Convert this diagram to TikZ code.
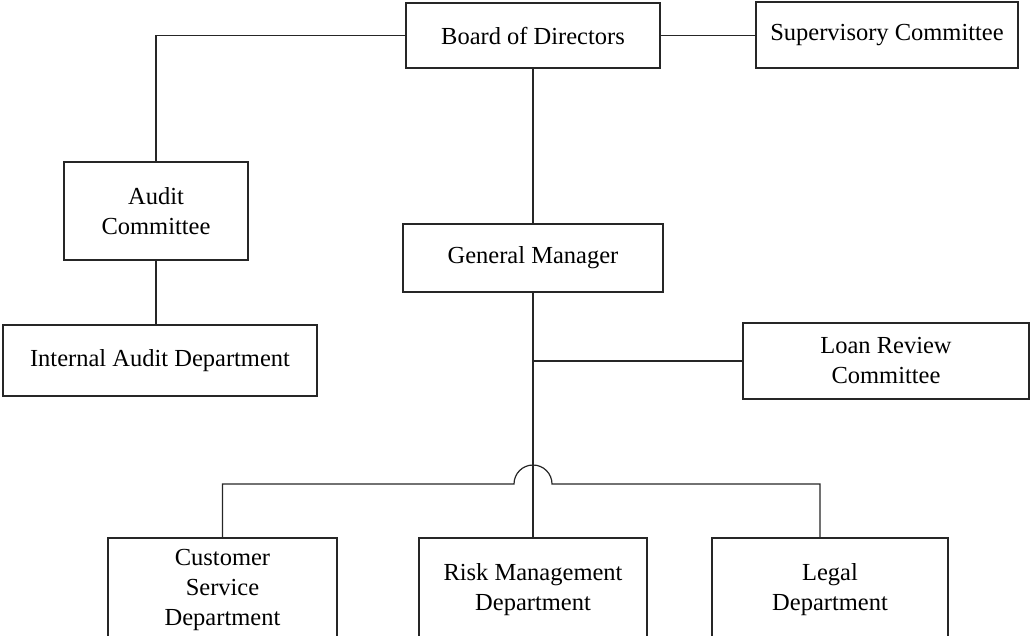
\documentclass[tikz,border=0pt]{standalone}
\usepackage{fontspec}
\setmainfont{Liberation Serif}
\tikzset{
  orgbox/.style={draw=black!85, line width=1.2pt, align=center, inner sep=0pt,
    font=\fontsize{24.5}{30}\selectfont},
  orgline/.style={draw=black!85, line width=1.2pt, line join=miter, line cap=butt}
}
\begin{document}
\begin{tikzpicture}[x=1pt, y=-1pt]
\path[use as bounding box, clip] (0,0) rectangle (1030,635);
\node[orgbox, minimum width=254pt, minimum height=65pt] (board) at (533,35.5) {Board of Directors};
\node[orgbox, minimum width=262pt, minimum height=66pt] (super) at (887,35) {Supervisory Committee};
\node[orgbox, minimum width=184pt, minimum height=98pt] (audit) at (156,211) {Audit\\Committee};
\node[orgbox, minimum width=314pt, minimum height=71pt] (iad) at (160,360.5) {Internal Audit Department};
\node[orgbox, minimum width=260pt, minimum height=68pt] (gm) at (533,258) {General Manager};
\node[orgbox, minimum width=286pt, minimum height=76pt] (loan) at (886,361) {Loan Review\\Committee};
\node[orgbox, minimum width=229pt, minimum height=104pt] (cust) at (222.5,590) {Customer\\Service\\Department};
\node[orgbox, minimum width=228pt, minimum height=104pt] (risk) at (533,590) {Risk Management\\Department};
\node[orgbox, minimum width=236pt, minimum height=104pt] (legal) at (830,590) {Legal\\Department};
% bus with hop over the main line
\coordinate (hopl) at (514,484);
\coordinate (busr) at (820,484);
\coordinate (legtop) at (820,538);
\path[orgline] (board.west) -| (audit.north);
\path[orgline] (board.east) -- (board.east -| super.west);
\path[orgline] (audit.south) -- (iad.north -| audit.south);
\path[orgline] (board.south) -- (gm.north);
\path[orgline] (gm.south) -- (risk.north);
\path[orgline] (gm.south |- loan.west) -- (loan.west);
\path[orgline] (cust.north) |- (hopl) arc[start angle=180, end angle=0, radius=19pt] -- (busr) -- (legtop);
\end{tikzpicture}
\end{document}
